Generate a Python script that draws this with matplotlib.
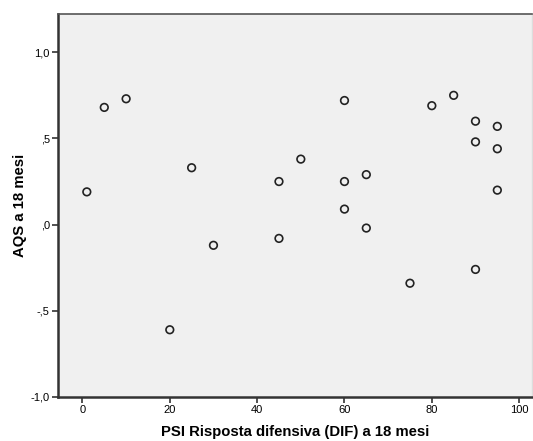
import numpy as np
import matplotlib
matplotlib.use('Agg')
import matplotlib.pyplot as plt

# data
psi_dif = [1, 5, 10, 20, 25, 30, 45, 45, 50, 60, 60, 60, 65, 65, 75, 80, 85, 90, 90, 90, 95, 95, 95]
aqs = [0.19, 0.68, 0.73, -0.61, 0.33, -0.12, 0.25, -0.08, 0.38, 0.72, 0.25, 0.09, 0.29, -0.02,
       -0.34, 0.69, 0.75, 0.60, 0.48, -0.26, 0.57, 0.44, 0.20]
xticks = [0, 20, 40, 60, 80, 100]
yticks = [-1.0, -0.5, 0.0, 0.5, 1.0]
ytick_labels = ['-1,0', '-,5', ',0', ',5', '1,0']

plt.rcParams['font.family'] = ['Liberation Sans', 'DejaVu Sans']

fig = plt.figure(figsize=(5.33, 4.41), dpi=100)
ax = fig.add_axes([0.1088, 0.0998, 0.889, 0.8685])
ax.set_facecolor('#f0f0f0')

ax.scatter(psi_dif, aqs, s=30, facecolors='none', edgecolors='#222222', linewidths=1.2, zorder=3)

ax.set_xlim(-5.6, 102.9)
ax.set_ylim(-1.0, 1.222)
ax.set_xticks(xticks)
ax.set_xticklabels([str(t) for t in xticks])
ax.set_yticks(yticks)
ax.set_yticklabels(ytick_labels)
ax.tick_params(axis='both', labelsize=8, length=4, width=1.2, color='#333333', pad=2)

for side in ['left', 'bottom']:
    ax.spines[side].set_linewidth(1.8)
    ax.spines[side].set_color('#333333')
ax.spines['top'].set_linewidth(1.2)
ax.spines['top'].set_color('#555555')
ax.spines['right'].set_linewidth(1.0)
ax.spines['right'].set_color('#dddddd')

ax.set_xlabel('PSI Risposta difensiva (DIF) a 18 mesi', fontsize=10.7, fontweight='bold', va='center')
ax.set_ylabel('AQS a 18 mesi', fontsize=10.7, fontweight='bold', va='center')
ax.xaxis.set_label_coords(0.5, -0.0914)
ax.yaxis.set_label_coords(-0.080, 0.5)

fig.savefig('out.png', dpi=100)
